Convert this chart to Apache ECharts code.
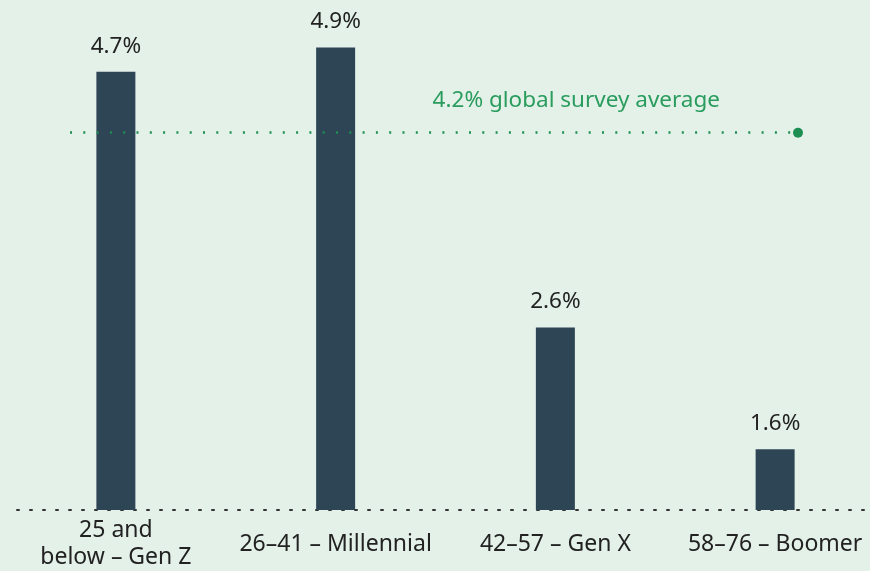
<!DOCTYPE html>
<html>
<head>
<meta charset="utf-8">
<script src="https://cdn.jsdelivr.net/npm/echarts@6/dist/echarts.min.js"></script>
<style>
  html, body {margin: 0; padding: 0; background: #e3f1e8;}
  #chart {width: 870px; height: 571px;}
</style>
</head>
<body>
<div id="chart"></div>
<script>
const categories = ['25 and\nbelow – Gen Z', '26–41 – Millennial', '42–57 – Gen X', '58–76 – Boomer'];
const shares = [4.7, 4.9, 2.6, 1.6];
const surveyAverage = 4.2;
const averageLabel = '4.2% global survey average';

const font = '"Noto Sans", sans-serif';
const chart = echarts.init(document.getElementById('chart'));

chart.setOption({
  backgroundColor: '#e3f1e8',
  animation: false,
  grid: {left: 6, width: 879, top: 0, bottom: 61, outerBoundsMode: 'none'},
  xAxis: {
    type: 'category',
    data: categories,
    axisTick: {show: false},
    axisLine: {
      lineStyle: {color: '#333', width: 2, type: [2, 11], dashOffset: -11}
    },
    axisLabel: {
      color: '#222', fontSize: 23, fontFamily: font,
      lineHeight: 27, margin: 34, interval: 0,
      verticalAlign: 'middle'
    }
  },
  yAxis: {
    type: 'value',
    min: 1.1, max: 5.29,
    show: false
  },
  series: [{
    type: 'bar',
    data: shares,
    barWidth: 39,
    itemStyle: {color: '#2e4556', borderWidth: 0},
    label: {
      show: true, position: 'top', distance: 14,
      formatter: p => p.value.toFixed(1) + '%',
      color: '#222', fontSize: 22.5, fontFamily: font
    },
    markLine: {
      silent: true,
      symbol: ['none', 'circle'],
      symbolSize: 10,
      lineStyle: {color: '#1d8f52', width: 2.5, type: [2, 11.3]},
      itemStyle: {color: '#178c4e'},
      label: {
        show: true,
        position: 'insideEndTop',
        distance: [78, 21],
        formatter: averageLabel,
        color: '#2a9c5e', fontSize: 22.5, fontFamily: font
      },
      data: [[
        {x: 70, yAxis: surveyAverage},
        {x: 798, yAxis: surveyAverage}
      ]]
    }
  }]
});
</script>
</body>
</html>
